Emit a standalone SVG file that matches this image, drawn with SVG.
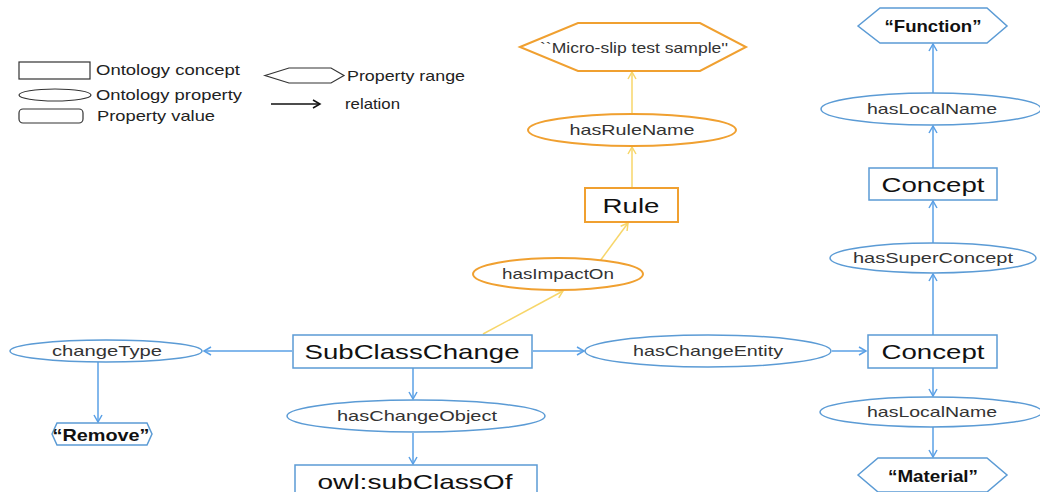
<svg xmlns="http://www.w3.org/2000/svg" width="1040" height="492" viewBox="0 0 1040 492">
<defs>
<style>
.bg{fill:#ffffff}
.lg{fill:#ffffff;stroke:#333;stroke-width:1.2}
.lt{font-family:"Liberation Sans",Arial,sans-serif;font-size:15px;fill:#222}
.bn{fill:#ffffff;stroke:#5b9bd5;stroke-width:1.5}
.on{fill:#ffffff;stroke:#f0a030;stroke-width:2}
.pt{font-family:"Liberation Sans",Arial,sans-serif;font-size:15px;fill:#333;text-anchor:middle}
.ct{font-family:"Liberation Sans",Arial,sans-serif;font-size:21px;fill:#111;text-anchor:middle}
.vt{font-family:"Liberation Sans",Arial,sans-serif;font-size:17px;font-weight:bold;fill:#111;text-anchor:middle}
.cb{fill:none;stroke:#5aa0e6;stroke-width:1.5}
.cy{fill:none;stroke:#f7d66a;stroke-width:1.5}
</style>
<marker id="ab" viewBox="0 0 10 10" refX="8" refY="5" markerWidth="10" markerHeight="10" markerUnits="userSpaceOnUse" orient="auto">
<path d="M1,1 L8,5 L1,9" fill="none" stroke="#5aa0e6" stroke-width="1.5"/>
</marker>
<marker id="ay" viewBox="0 0 10 10" refX="8" refY="5" markerWidth="10" markerHeight="10" markerUnits="userSpaceOnUse" orient="auto">
<path d="M1,1 L8,5 L1,9" fill="none" stroke="#f7d66a" stroke-width="1.5"/>
</marker>
<marker id="ak" viewBox="0 0 10 10" refX="8" refY="5" markerWidth="10" markerHeight="10" markerUnits="userSpaceOnUse" orient="auto">
<path d="M1,1 L8,5 L1,9" fill="none" stroke="#111" stroke-width="1.5"/>
</marker>
</defs>
<rect class="bg" x="0" y="0" width="1040" height="492"/>

<g id="legend">
<rect class="lg" x="19" y="62" width="71" height="17"/>
<text class="lt" x="96" y="75" textLength="144" lengthAdjust="spacingAndGlyphs">Ontology concept</text>
<ellipse class="lg" cx="55" cy="95" rx="36" ry="6"/>
<text class="lt" x="96" y="100" textLength="146" lengthAdjust="spacingAndGlyphs">Ontology property</text>
<rect class="lg" x="19" y="109" width="64" height="14" rx="4"/>
<text class="lt" x="97" y="121" textLength="118" lengthAdjust="spacingAndGlyphs">Property value</text>
<polygon class="lg" points="265,75.5 289,68 331,68 344,75.5 331,83 289,83"/>
<text class="lt" x="347" y="81" textLength="118" lengthAdjust="spacingAndGlyphs">Property range</text>
<line x1="271" y1="104" x2="320" y2="104" stroke="#111" stroke-width="1.3" marker-end="url(#ak)"/>
<text class="lt" x="345" y="109" textLength="55" lengthAdjust="spacingAndGlyphs">relation</text>
</g>

<g id="connectors">
<path class="cb" d="M292,351 L204,351" marker-end="url(#ab)"/>
<path class="cb" d="M98,362 L98,422" marker-end="url(#ab)"/>
<path class="cb" d="M413,368 L413,399" marker-end="url(#ab)"/>
<path class="cb" d="M413,433 L413,464" marker-end="url(#ab)"/>
<path class="cb" d="M533,351 L584,351" marker-end="url(#ab)"/>
<path class="cb" d="M832,351 L866,351" marker-end="url(#ab)"/>
<path class="cb" d="M933,335 L933,274" marker-end="url(#ab)"/>
<path class="cb" d="M933,243 L933,201" marker-end="url(#ab)"/>
<path class="cb" d="M933,168 L933,126" marker-end="url(#ab)"/>
<path class="cb" d="M933,93 L933,44" marker-end="url(#ab)"/>
<path class="cb" d="M933,368 L933,396" marker-end="url(#ab)"/>
<path class="cb" d="M933,427 L933,457" marker-end="url(#ab)"/>
<path class="cy" d="M483,334 L563,291" marker-end="url(#ay)"/>
<path class="cy" d="M600,261 L628,223" marker-end="url(#ay)"/>
<path class="cy" d="M632,188 L632,147" marker-end="url(#ay)"/>
<path class="cy" d="M632,113 L632,72" marker-end="url(#ay)"/>
</g>

<g id="n-sample">
<polygon class="on" points="520,47 578,23 700,23 746,47 700,71 578,71"/>
<text class="pt" x="634" y="53" font-size="16" textLength="188" lengthAdjust="spacingAndGlyphs">``Micro-slip test sample''</text>
</g>
<g id="n-hasRuleName">
<ellipse class="on" cx="632" cy="130" rx="104" ry="16"/>
<text class="pt" x="632" y="135" textLength="125" lengthAdjust="spacingAndGlyphs">hasRuleName</text>
</g>
<g id="n-rule">
<rect class="on" x="585" y="188" width="93" height="34"/>
<text class="ct" x="631" y="213" font-size="22" textLength="57" lengthAdjust="spacingAndGlyphs">Rule</text>
</g>
<g id="n-hasImpactOn">
<ellipse class="on" cx="558" cy="274" rx="85" ry="16"/>
<text class="pt" x="558" y="279" textLength="112" lengthAdjust="spacingAndGlyphs">hasImpactOn</text>
</g>
<g id="n-subClassChange">
<rect class="bn" x="293" y="335" width="239" height="33"/>
<text class="ct" x="412" y="359" textLength="215" lengthAdjust="spacingAndGlyphs">SubClassChange</text>
</g>
<g id="n-changeType">
<ellipse class="bn" cx="106" cy="351" rx="96" ry="11"/>
<text class="pt" x="107" y="356" textLength="110" lengthAdjust="spacingAndGlyphs">changeType</text>
</g>
<g id="n-remove">
<polygon class="bn" points="52,434 57,423 147,423 152,434 147,445 57,445"/>
<text class="vt" x="101" y="441" textLength="97" lengthAdjust="spacingAndGlyphs">“Remove”</text>
</g>
<g id="n-hasChangeObject">
<ellipse class="bn" cx="416" cy="416" rx="129" ry="16"/>
<text class="pt" x="417" y="421" textLength="160" lengthAdjust="spacingAndGlyphs">hasChangeObject</text>
</g>
<g id="n-subClassOf">
<rect class="bn" x="295" y="465" width="242" height="40"/>
<text class="ct" x="415" y="489" textLength="195" lengthAdjust="spacingAndGlyphs">owl:subClassOf</text>
</g>
<g id="n-hasChangeEntity">
<ellipse class="bn" cx="708" cy="351" rx="123" ry="16"/>
<text class="pt" x="708" y="356" textLength="150" lengthAdjust="spacingAndGlyphs">hasChangeEntity</text>
</g>
<g id="n-concept1">
<rect class="bn" x="868" y="335" width="129" height="33"/>
<text class="ct" x="933" y="359" textLength="103" lengthAdjust="spacingAndGlyphs">Concept</text>
</g>
<g id="n-hasLocalName1">
<ellipse class="bn" cx="931" cy="412" rx="111" ry="15"/>
<text class="pt" x="932" y="417" textLength="130" lengthAdjust="spacingAndGlyphs">hasLocalName</text>
</g>
<g id="n-material">
<polygon class="bn" points="858,475 878,458 987,458 1007,475 987,492 878,492"/>
<text class="vt" x="933" y="482" textLength="90" lengthAdjust="spacingAndGlyphs">“Material”</text>
</g>
<g id="n-hasSuperConcept">
<ellipse class="bn" cx="933" cy="258" rx="103" ry="15"/>
<text class="pt" x="933" y="263" textLength="160" lengthAdjust="spacingAndGlyphs">hasSuperConcept</text>
</g>
<g id="n-concept2">
<rect class="bn" x="869" y="168" width="128" height="32"/>
<text class="ct" x="933" y="192" textLength="103" lengthAdjust="spacingAndGlyphs">Concept</text>
</g>
<g id="n-hasLocalName2">
<ellipse class="bn" cx="931" cy="109" rx="110" ry="16"/>
<text class="pt" x="932" y="114" textLength="130" lengthAdjust="spacingAndGlyphs">hasLocalName</text>
</g>
<g id="n-function">
<polygon class="bn" points="858,26 880,8 987,8 1007,26 987,43 880,43"/>
<text class="vt" x="933" y="32" textLength="97" lengthAdjust="spacingAndGlyphs">“Function”</text>
</g>
</svg>
